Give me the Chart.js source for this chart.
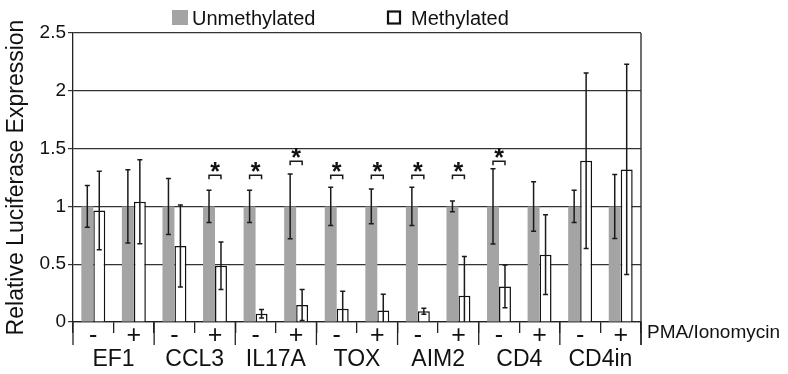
<!DOCTYPE html>
<html><head><meta charset="utf-8">
<script src="https://cdn.jsdelivr.net/npm/chart.js@4.4.0/dist/chart.umd.min.js"></script>
<style>html,body{margin:0;padding:0;background:#fff}#wrap{width:788px;height:374px}</style>
</head><body><div id="wrap"><canvas id="c" width="788" height="374"></canvas></div>
<script>
const genes = ['EF1', 'CCL3', 'IL17A', 'TOX', 'AIM2', 'CD4', 'CD4in'];
const treatments = ['-', '+', '-', '+', '-', '+', '-', '+', '-', '+', '-', '+', '-', '+'];
const unmethylated = [1, 1, 1, 1, 1, 1, 1, 1, 1, 1, 1, 1, 1, 1];
const unmethylatedErr = [0.18, 0.317, 0.242, 0.14, 0.14, 0.28, 0.165, 0.15, 0.165, 0.047, 0.326, 0.214, 0.14, 0.277];
const methylated = [0.965, 1.04, 0.657, 0.487, 0.072, 0.147, 0.115, 0.10, 0.092, 0.227, 0.308, 0.582, 1.395, 1.32];
const methylatedErr = [0.34, 0.364, 0.355, 0.205, 0.037, 0.135, 0.15, 0.14, 0.026, 0.34, 0.185, 0.345, 0.76, 0.91];
const sigIndex = [3, 4, 5, 6, 7, 8, 9, 10];
const sigLevel = [1.27, 1.27, 1.39, 1.27, 1.27, 1.27, 1.27, 1.39];
const yTicks = [0, 0.5, 1, 1.5, 2, 2.5];
const legendLabels = ['Unmethylated', 'Methylated'];
const xTitle = 'PMA/Ionomycin';
const yTitle = 'Relative Luciferase Expression';

const FONT = "'Liberation Sans', Arial, sans-serif";
const GREY = '#a4a4a4';
const INK = '#1a1a1a';

const extras = {
  id: 'extras',
  afterDatasetsDraw(chart) {
    const ctx = chart.ctx, y = chart.scales.y, ca = chart.chartArea;
    const errs = [unmethylatedErr, methylatedErr];
    const vals = [unmethylated, methylated];
    ctx.save();
    ctx.beginPath();
    ctx.rect(ca.left, ca.top - 40, ca.right - ca.left, ca.bottom - ca.top + 40);
    ctx.clip();
    ctx.strokeStyle = INK;
    ctx.lineWidth = 1.5;
    for (let d = 0; d < 2; d++) {
      const meta = chart.getDatasetMeta(d);
      meta.data.forEach((bar, i) => {
        const v = vals[d][i], e = errs[d][i];
        const yt = y.getPixelForValue(v + e), yb = y.getPixelForValue(Math.max(v - e, -0.2));
        ctx.beginPath();
        ctx.moveTo(bar.x, yt); ctx.lineTo(bar.x, yb);
        ctx.moveTo(bar.x - 2.5, yt); ctx.lineTo(bar.x + 2.5, yt);
        ctx.moveTo(bar.x - 2.5, yb); ctx.lineTo(bar.x + 2.5, yb);
        ctx.stroke();
      });
    }
    ctx.restore();
  },
  afterDraw(chart) {
    const ctx = chart.ctx, y = chart.scales.y, x = chart.scales.x, ca = chart.chartArea;
    const m0 = chart.getDatasetMeta(0), m1 = chart.getDatasetMeta(1);
    ctx.save();
    // significance brackets
    ctx.strokeStyle = INK; ctx.lineWidth = 1.5; ctx.fillStyle = '#111';
    ctx.font = 'bold 25px ' + FONT; ctx.textAlign = 'center'; ctx.textBaseline = 'alphabetic';
    sigIndex.forEach((i, k) => {
      const x1 = m0.data[i].x, x2 = m1.data[i].x, yy = y.getPixelForValue(sigLevel[k]);
      ctx.beginPath();
      ctx.moveTo(x1, yy + 4); ctx.lineTo(x1, yy); ctx.lineTo(x2, yy); ctx.lineTo(x2, yy + 4);
      ctx.stroke();
      ctx.fillText('*', (x1 + x2) / 2, yy + 5);
    });
    // group separators and right frame
    ctx.strokeStyle = '#222'; ctx.lineWidth = 1.3;
    const bottom = ca.bottom + 23;
    for (let k = 0; k <= genes.length; k++) {
      const idx = 2 * k;
      let px;
      if (k === 0) px = ca.left;
      else if (k === genes.length) px = ca.right;
      else px = (x.getPixelForValue(idx - 1) + x.getPixelForValue(idx)) / 2;
      ctx.beginPath(); ctx.moveTo(px, ca.bottom); ctx.lineTo(px, bottom); ctx.stroke();
    }
    ctx.beginPath(); ctx.moveTo(ca.right, ca.top); ctx.lineTo(ca.right, bottom); ctx.stroke();
    // x title (right side)
    ctx.fillStyle = '#111'; ctx.font = '19px ' + FONT; ctx.textAlign = 'left';
    ctx.fillText(xTitle, ca.right + 6, 338);
    // legend
    ctx.font = '20px ' + FONT;
    ctx.fillStyle = GREY; ctx.fillRect(172, 10, 16, 15);
    ctx.fillStyle = '#111'; ctx.fillText(legendLabels[0], 192, 25);
    ctx.strokeStyle = '#111'; ctx.lineWidth = 2.2; ctx.strokeRect(388, 11.5, 12, 12);
    ctx.fillText(legendLabels[1], 411, 25);
    ctx.restore();
  }
};

new Chart(document.getElementById('c'), {
  type: 'bar',
  data: {
    labels: treatments,
    datasets: [
      { label: legendLabels[0], data: unmethylated, backgroundColor: GREY, borderWidth: 0, xAxisID: 'x' },
      { label: legendLabels[1], data: methylated, backgroundColor: '#ffffff', borderColor: '#111', borderWidth: 1.5, xAxisID: 'x' }
    ]
  },
  options: {
    responsive: false, animation: false, devicePixelRatio: 1,
    layout: { padding: { left: 0, right: 147, top: 33, bottom: 0 } },
    datasets: { bar: { categoryPercentage: 0.59, barPercentage: 1.0 } },
    plugins: { legend: { display: false }, tooltip: { enabled: false } },
    scales: {
      x: {
        type: 'category', labels: treatments, offset: true, z: 1,
        grid: { offset: true, drawOnChartArea: false, drawTicks: true, tickLength: 11, color: '#222', lineWidth: 1.3 },
        border: { display: true, color: '#222', width: 1.3 },
        ticks: { font: { size: 25, family: FONT }, color: '#111', padding: -12, maxRotation: 0, autoSkip: false },
        afterFit(s) { s.height = 23; }
      },
      x2: {
        type: 'category', labels: genes, position: 'bottom', offset: true,
        grid: { display: false }, border: { display: false },
        ticks: { font: { size: 23, family: FONT }, color: '#111', padding: -7, maxRotation: 0, autoSkip: false },
        afterFit(s) { s.height = 29; }
      },
      y: {
        min: 0, max: 2.5,
        afterBuildTicks(s) { s.ticks = yTicks.map(v => ({ value: v })); },
        ticks: { font: { size: 19, family: FONT }, color: '#111', padding: 2, callback: v => String(v) },
        grid: { color: '#333', lineWidth: 1.2, tickLength: 5 },
        border: { color: '#222', width: 1.3 },
        title: { display: true, text: yTitle, font: { size: 23, family: FONT }, color: '#111', padding: { top: 3, bottom: 0 } },
        afterFit(s) { s.width = 73; }
      }
    }
  },
  plugins: [extras]
});
</script></body></html>
